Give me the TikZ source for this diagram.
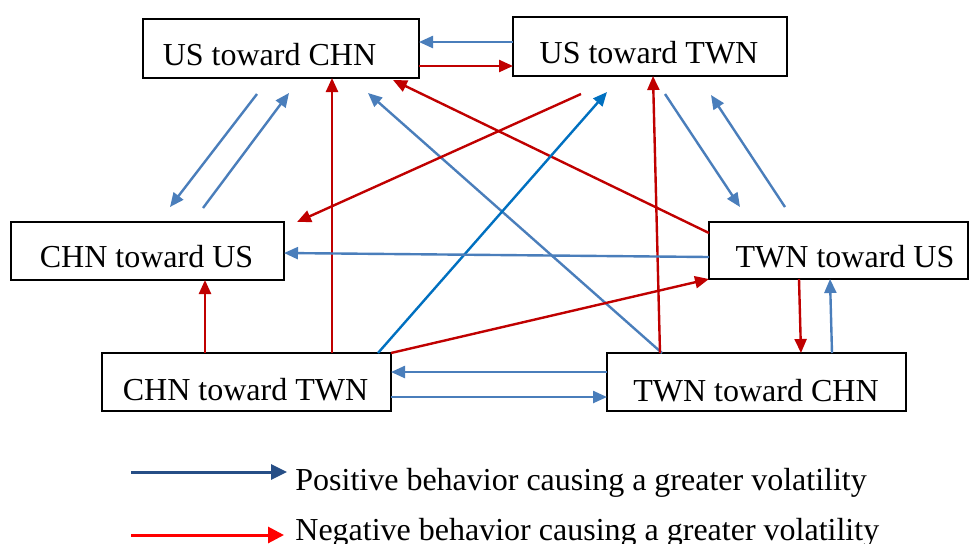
\documentclass[tikz,border=0pt]{standalone}
\usepackage{fontspec}
\setmainfont{Liberation Serif}
\usetikzlibrary{arrows.meta,calc}
\definecolor{lblue}{HTML}{4A7EBB}
\definecolor{dred}{HTML}{C00000}
\definecolor{mblue}{HTML}{0070C0}
\definecolor{navy}{HTML}{264E86}
\definecolor{pred}{HTML}{FF0000}
\begin{document}
\begin{tikzpicture}[x=0.5pt,y=-0.5pt,
  boxnode/.style={draw=black,line width=1pt,inner sep=0pt,outer sep=0pt,fill=white},
  txt/.style={anchor=base,inner sep=0pt,font=\fontsize{16}{19}\selectfont},
  bl/.style={draw=lblue,line width=1.2pt,-{Triangle[length=7pt,width=6pt]}},
  rd/.style={draw=dred,line width=1.2pt,-{Triangle[length=7pt,width=6pt]}},
  mb/.style={draw=mblue,line width=1.2pt,-{Triangle[length=7pt,width=6pt]}},
  legb/.style={draw=navy,line width=1.5pt,-{Triangle[length=8pt,width=7.5pt]}},
  legr/.style={draw=pred,line width=1.5pt,-{Triangle[length=8pt,width=8pt]}}]
\useasboundingbox[fill=white] (0,0) rectangle (970,543);
% boxes
\node[boxnode,minimum width=138pt,minimum height=29.5pt] (uc) at (281,48.5) {};
\node[boxnode,minimum width=137pt,minimum height=29.5pt] (ut) at (650,46.5) {};
\node[boxnode,minimum width=136.5pt,minimum height=29pt] (cu) at (147.5,251) {};
\node[boxnode,minimum width=129.5pt,minimum height=28.5pt] (tu) at (838.5,250.5) {};
\node[boxnode,minimum width=144.5pt,minimum height=29pt] (ct) at (246.5,382) {};
\node[boxnode,minimum width=149.5pt,minimum height=29pt] (tc) at (756.5,382) {};
% labels
\node[txt] (ucl) at (269.5,65) {US toward CHN};
\node[txt] (utl) at (649,63) {US toward TWN};
\node[txt] (cul) at (146.5,267) {CHN toward US};
\node[txt] (tul) at (845,267) {TWN toward US};
\node[txt] (ctl) at (245.5,400) {CHN toward TWN};
\node[txt] (tcl) at (756,401) {TWN toward CHN};
% free ends
\coordinate (a3s) at (257,94);
\coordinate (a3e) at (170,207);
\coordinate (a4s) at (203,208);
\coordinate (a4e) at (289,93);
\coordinate (a6e) at (368,93);
\coordinate (a8e) at (393,80);
\coordinate (a9s) at (581,94);
\coordinate (a9e) at (297,222);
\coordinate (a10e) at (607,92);
\coordinate (a11s) at (665,94);
\coordinate (a11e) at (740,207);
\coordinate (a12s) at (785,207);
\coordinate (a12e) at (711,95);
% connectors
\draw[bl] (ut.west |- 0,42) -- (uc.east |- 0,42);
\draw[rd] (uc.east |- 0,66) -- (ut.west |- 0,66);
\draw[bl] (a3s) -- (a3e);
\draw[bl] (a4s) -- (a4e);
\draw[rd] (ct.north -| 332,0) -- (uc.south -| 332,0);
\draw[bl] (tc.north -| 662,0) -- (a6e);
\draw[rd] (tc.north -| 660,0) -- (ut.south -| 653,0);
\draw[rd] (tu.west |- 0,233) -- (a8e);
\draw[rd] (a9s) -- (a9e);
\draw[mb] (ct.north -| 378,0) -- (a10e);
\draw[bl] (a11s) -- (a11e);
\draw[bl] (a12s) -- (a12e);
\draw[bl] (tu.west |- 0,257) -- (cu.east |- 0,253);
\draw[rd] (ct.north -| 205,0) -- (cu.south -| 205,0);
\draw[rd] (ct.north east) -- (tu.south west);
\draw[rd] (tu.south -| 799,0) -- (tc.north -| 801,0);
\draw[bl] (tc.north -| 832,0) -- (tu.south -| 830,0);
\draw[bl] (tc.west |- 0,372) -- (ct.east |- 0,372);
\draw[bl] (ct.east |- 0,397) -- (tc.west |- 0,397);
% legend
\coordinate (lb1) at (131,472);
\coordinate (lb2) at (287,472);
\coordinate (lr1) at (131,535);
\coordinate (lr2) at (284,535);
\draw[legb] (lb1) -- (lb2);
\draw[legr] (lr1) -- (lr2);
\node[txt,anchor=base west] (legbt) at (295,490) {Positive behavior causing a greater volatility};
\node[txt,anchor=base west] (legrt) at (295,540) {Negative behavior causing a greater volatility};
\end{tikzpicture}
\end{document}
